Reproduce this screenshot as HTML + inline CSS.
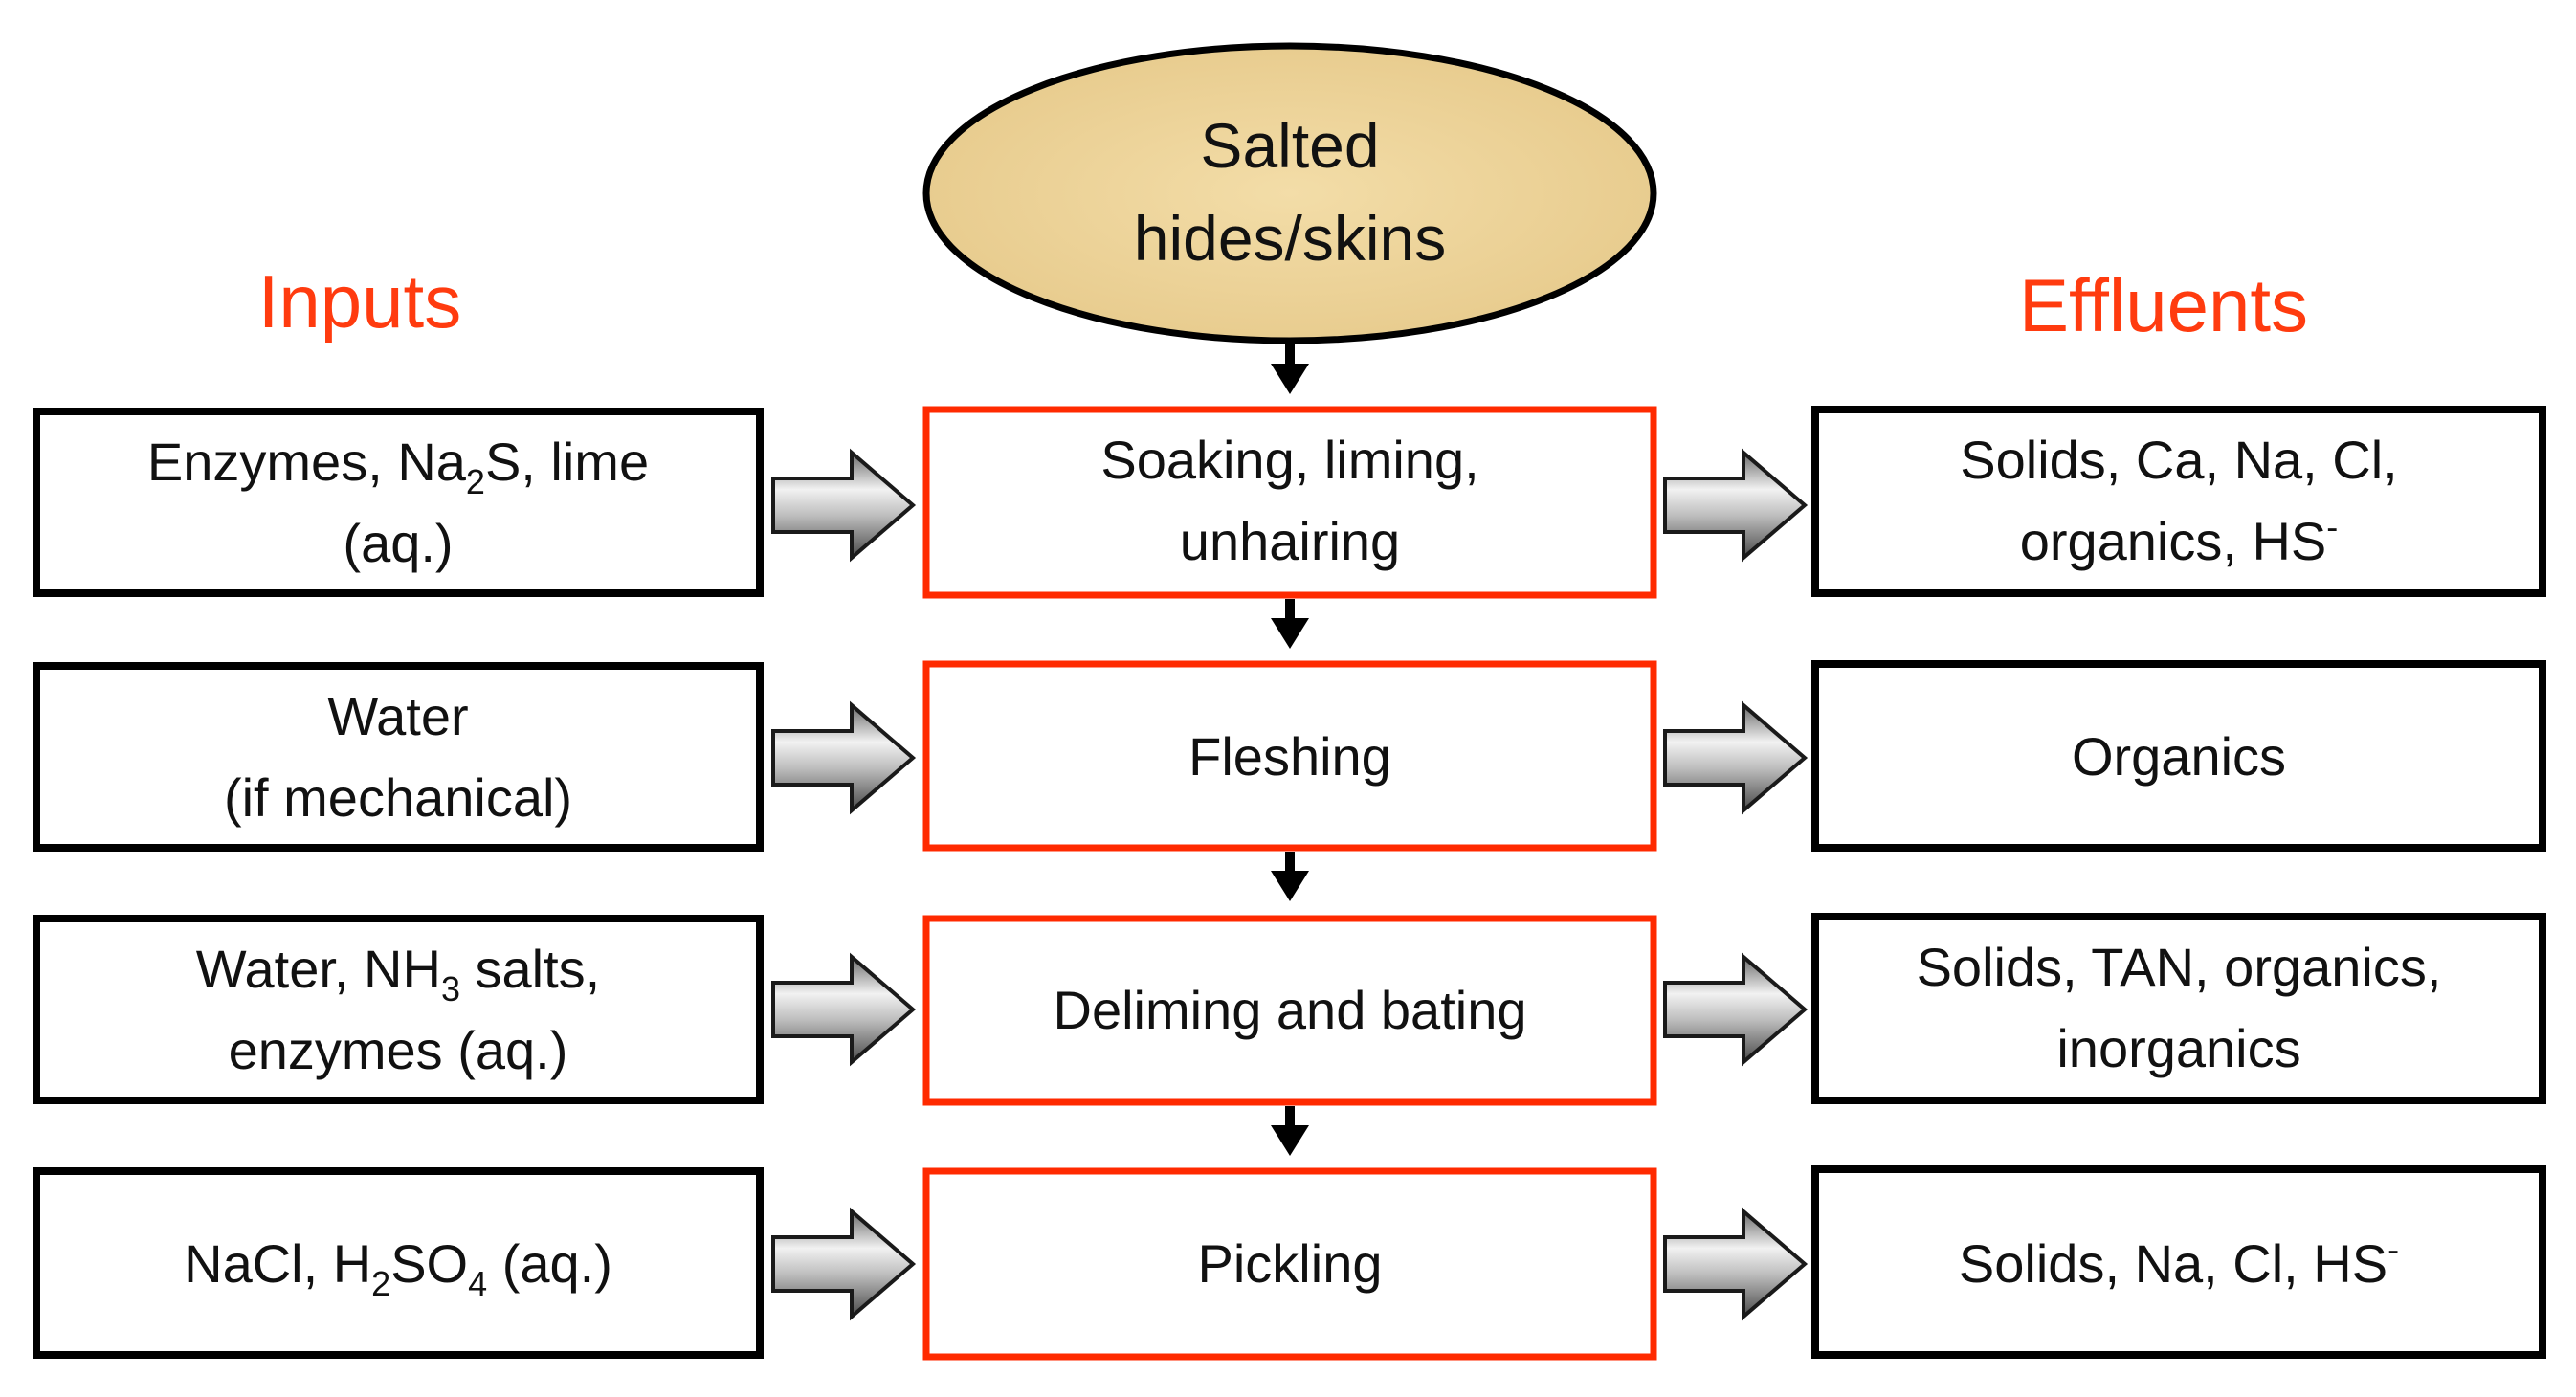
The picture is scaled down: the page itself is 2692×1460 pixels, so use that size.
<!DOCTYPE html>
<html><head><meta charset="utf-8"><style>
html,body{margin:0;padding:0;background:#fff}
svg{display:block}
text{font-family:"Liberation Sans",sans-serif;fill:#111}
</style></head><body>
<svg width="2692" height="1460" viewBox="0 0 2692 1460" xmlns="http://www.w3.org/2000/svg">
<defs>
<radialGradient id="tan" cx="50%" cy="50%" r="60%">
<stop offset="0" stop-color="#f3dda8"/><stop offset="1" stop-color="#e6c98a"/>
</radialGradient>
<linearGradient id="arr" x1="0" y1="0" x2="0" y2="1">
<stop offset="0" stop-color="#6a6a6a"/><stop offset="0.35" stop-color="#f2f2f2"/><stop offset="0.6" stop-color="#bdbdbd"/><stop offset="1" stop-color="#4a4a4a"/>
</linearGradient>
<g id="ba"><path d="M0,-28 L82,-28 L82,-55 L146,0 L82,55 L82,28 L0,28 Z" fill="url(#arr)" stroke="#1a1a1a" stroke-width="4" stroke-linejoin="miter"/></g>
<g id="da"><rect x="-5" y="0" width="10" height="22" fill="#000"/><path d="M-20,20 L20,20 L0,52 Z" fill="#000"/></g>
</defs>

<ellipse cx="1348" cy="202" rx="380" ry="154" fill="url(#tan)" stroke="#000" stroke-width="7"/>
<text x="1348" y="175" font-size="66" text-anchor="middle">Salted</text>
<text x="1348" y="272" font-size="66" text-anchor="middle">hides/skins</text>

<text x="376" y="342" font-size="78" text-anchor="middle" style="fill:#ff3b0f">Inputs</text>
<text x="2261" y="346" font-size="78" text-anchor="middle" style="fill:#ff3b0f">Effluents</text>

<use href="#da" x="1348" y="360"/>
<use href="#da" x="1348" y="626"/>
<use href="#da" x="1348" y="890"/>
<use href="#da" x="1348" y="1156"/>

<g fill="#fff" stroke="#000" stroke-width="8">
<rect x="38" y="430" width="756" height="190"/>
<rect x="38" y="696" width="756" height="190"/>
<rect x="38" y="960" width="756" height="190"/>
<rect x="38" y="1224" width="756" height="192"/>
<rect x="1897" y="428" width="760" height="192"/>
<rect x="1897" y="694" width="760" height="192"/>
<rect x="1897" y="958" width="760" height="192"/>
<rect x="1897" y="1222" width="760" height="194"/>
</g>
<g fill="#fff" stroke="#ff2a00" stroke-width="7">
<rect x="968" y="428" width="760" height="194"/>
<rect x="968" y="694" width="760" height="192"/>
<rect x="968" y="960" width="760" height="192"/>
<rect x="968" y="1224" width="760" height="194"/>
</g>

<use href="#ba" x="808" y="528"/>
<use href="#ba" x="808" y="792"/>
<use href="#ba" x="808" y="1055"/>
<use href="#ba" x="808" y="1321"/>
<use href="#ba" x="1740" y="528"/>
<use href="#ba" x="1740" y="792"/>
<use href="#ba" x="1740" y="1055"/>
<use href="#ba" x="1740" y="1321"/>

<g font-size="56" text-anchor="middle">
<text x="416" y="502">Enzymes, Na<tspan font-size="36" dy="14">2</tspan><tspan dy="-14">S, lime</tspan></text>
<text x="416" y="587">(aq.)</text>
<text x="416" y="768">Water</text>
<text x="416" y="853">(if mechanical)</text>
<text x="416" y="1032">Water, NH<tspan font-size="36" dy="14">3</tspan><tspan dy="-14"> salts,</tspan></text>
<text x="416" y="1117">enzymes (aq.)</text>
<text x="416" y="1340">NaCl, H<tspan font-size="36" dy="14">2</tspan><tspan dy="-14">SO</tspan><tspan font-size="36" dy="14">4</tspan><tspan dy="-14"> (aq.)</tspan></text>

<text x="1348" y="500">Soaking, liming,</text>
<text x="1348" y="585">unhairing</text>
<text x="1348" y="810">Fleshing</text>
<text x="1348" y="1075">Deliming and bating</text>
<text x="1348" y="1340">Pickling</text>

<text x="2277" y="500">Solids, Ca, Na, Cl,</text>
<text x="2277" y="585">organics, HS<tspan font-size="36" dy="-22">-</tspan></text>
<text x="2277" y="810">Organics</text>
<text x="2277" y="1030">Solids, TAN, organics,</text>
<text x="2277" y="1115">inorganics</text>
<text x="2277" y="1340">Solids, Na, Cl, HS<tspan font-size="36" dy="-22">-</tspan></text>
</g>
</svg>
</body></html>
